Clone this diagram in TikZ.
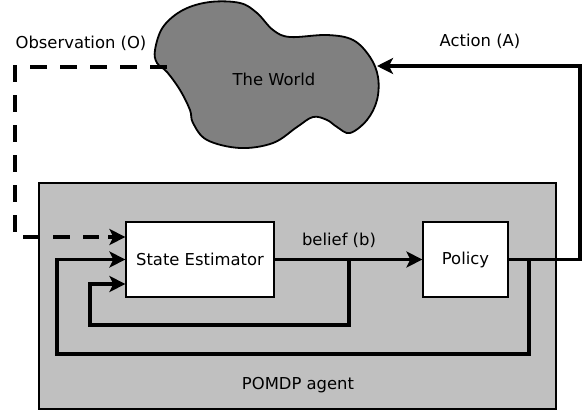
\documentclass[tikz,border=0pt]{standalone}
\usepackage{fontspec}
\setmainfont{DejaVu Sans}
\usetikzlibrary{arrows.meta,calc}
\definecolor{agentgray}{HTML}{C0C0C0}
\definecolor{worldgray}{HTML}{808080}
\begin{document}
\begin{tikzpicture}[x=1pt,y=-1pt,
  font=\fontsize{16.4}{19}\selectfont,
  agentbox/.style={draw=black,line width=1.2pt,fill=agentgray,inner sep=0pt},
  blockbox/.style={draw=black,line width=1.2pt,fill=white,inner sep=0pt,minimum height=75pt},
  worldshape/.style={draw=black,line width=1.8pt,fill=worldgray},
  conn/.style={line width=3.4pt},
  arr/.style={conn,-{Stealth[length=16pt,width=16pt,inset=4pt]}},
  dconn/.style={conn,dash pattern=on 17pt off 13pt},
  lbl/.style={inner sep=0pt,text=black}]
\useasboundingbox (0,0) rectangle (588,412);
% agent
\node[agentbox,minimum width=517pt,minimum height=226pt] (agent) at (297.5,296) {};
\node[lbl] (agentlbl) at (298,385) {POMDP agent};
% world
\draw[worldshape] plot[smooth cycle,tension=0.6] coordinates {
 (155,50) (163,27) (183,10) (210,2) (240,3) (257,13) (273,30) (290,37)
 (327,35) (353,40) (370,57) (378,77) (377,100) (367,120) (350,133)
 (337,127) (327,120) (313,117) (297,127) (273,143) (240,148) (207,140)
 (193,123) (190,110) (180,90) (167,72) (157,63)};
\node[lbl] (world) at (274,79) {The World};
\coordinate (wA) at (377,66);
\coordinate (wO) at (167,67);
% blocks
\node[blockbox,minimum width=148pt] (se) at (200,259.5) {State Estimator};
\node[blockbox,minimum width=85pt] (pol) at (465.5,259.5) {Policy};
% belief
\draw[arr] (se.east) -- (pol.west);
\node[lbl] (belief) at (339,240) {belief (b)};
\coordinate (bsplit) at (349,259.5);
\draw[arr] (bsplit) -- (349,325) -- (90,325) -- (90,284) -- ($(se.west)+(0,24.5)$);
% outer loop
\draw[arr] (pol.east) -- (529,259.5) -- (529,354) -- (57,354) -- (57,259.5) -- (se.west);
% action
\draw[arr] (pol.east) -- (580,259.5) -- (580,66) -- (wA);
\node[lbl] (action) at (480,41) {Action (A)};
% observation
\draw[dconn] (wO) -- (15,67) -- (15,237) -- ($(se.west)+(-26,-22.5)$);
\draw[arr] ($(se.west)+(-17,-22.5)$) -- ($(se.west)+(0,-22.5)$);
\node[lbl] (obs) at (81,43) {Observation (O)};
\end{tikzpicture}
\end{document}
